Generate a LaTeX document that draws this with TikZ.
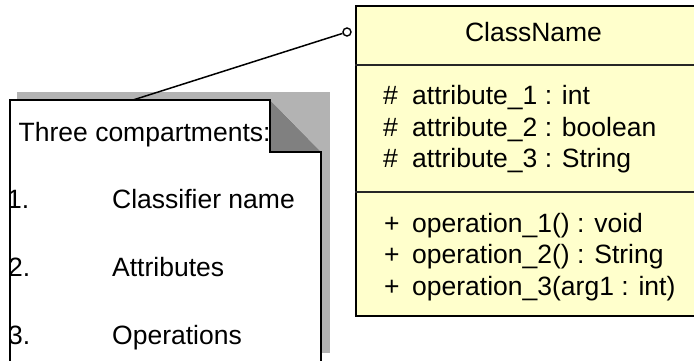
\documentclass[tikz,border=0pt]{standalone}
\usepackage{fontspec}
\setmainfont{Liberation Sans}
\definecolor{classfill}{HTML}{FFFFCC}
\definecolor{shadowgray}{HTML}{B3B3B3}
\definecolor{foldgray}{HTML}{808080}
\begin{document}
\begin{tikzpicture}[x=1pt,y=-1pt,
  txt/.style={anchor=base west,inner sep=0pt,font=\fontsize{26.5}{32}\selectfont},
  ctxt/.style={anchor=base,inner sep=0pt,font=\fontsize{26.5}{32}\selectfont},
  border/.style={line width=1.7pt,line join=miter},
  divider/.style={line width=1.5pt,draw=black!85},
  pinstyle/.style={circle,draw,fill=white,line width=1.4pt,inner sep=0pt,minimum size=8pt}]
\useasboundingbox (0,0) rectangle (694,361);
\clip (0,0) rectangle (694,361);

% class box with its two compartment dividers
\node[draw,fill=classfill,border,anchor=north west,inner sep=0pt,
      minimum width=357pt,minimum height=310pt] (cls) at (355,5) {};
\draw[divider] (355,65) -- (712,65);
\draw[divider] (355,192) -- (712,192);

\node[ctxt] (cname) at (533.5,42) {ClassName};

\node[txt] (v1) at (383,105) {\#};
\node[txt] (a1) at (412,105) {attribute\_1 : int};
\node[txt] (v2) at (383,136) {\#};
\node[txt] (a2) at (412,136) {attribute\_2 : boolean};
\node[txt] (v3) at (383,167) {\#};
\node[txt] (a3) at (412,167) {attribute\_3 : String};

\node[txt] (p1) at (384,232) {+};
\node[txt] (o1) at (412,232) {operation\_1() : void};
\node[txt] (p2) at (384,263.5) {+};
\node[txt] (o2) at (412,263.5) {operation\_2() : String};
\node[txt] (p3) at (384,295) {+};
\node[txt] (o3) at (412,295) {operation\_3(arg1 : int)};

% note: shadow, page, folded corner
\fill[shadowgray] (17,92) rectangle (330,353);
\fill[white] (10,370) -- (10,100) -- (270,100) -- (321,152) -- (321,370) -- cycle;
\fill[foldgray] (270,100) -- (321,152) -- (270,152) -- cycle;
\draw[border] (10,370) -- (10,100) -- (270,100) -- (270,152) -- (321,152) -- (321,370);

\node[txt] (n0) at (18.5,142) {Three compartments:};
\node[txt] (n1) at (7,208) {1.};
\node[txt] (t1) at (112,208) {Classifier name};
\node[txt] (n2) at (8,276) {2.};
\node[txt] (t2) at (112,276) {Attributes};
\node[txt] (n3) at (8,344) {3.};
\node[txt] (t3) at (112,344) {Operations};

% note attachment
\coordinate (att) at (133,100);
\node[pinstyle] (pin) at (347,32) {};
\draw[line width=1.5pt] (att) -- (pin);
\end{tikzpicture}
\end{document}
